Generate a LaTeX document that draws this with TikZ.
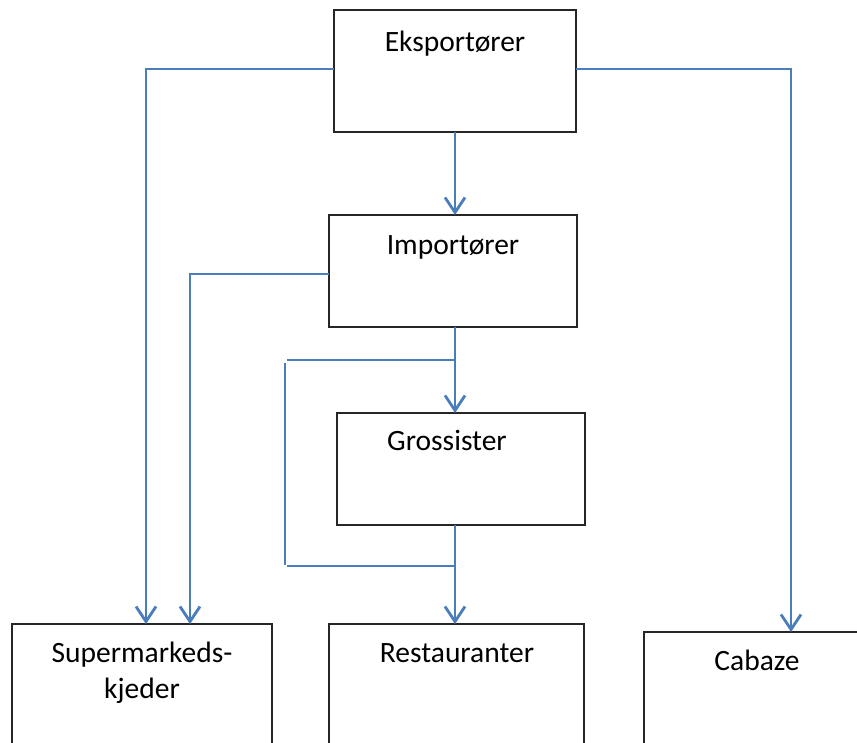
\documentclass[tikz,border=0pt]{standalone}
\usepackage{fontspec}
\setmainfont{Carlito}
\usetikzlibrary{arrows.meta}
\definecolor{conn}{HTML}{4A7EBB}
\begin{document}
\begin{tikzpicture}[x=1pt,y=-1pt,
  box/.style={draw=black!85,line width=1.7pt,rectangle},
  lbl/.style={anchor=base,inner sep=0pt,font=\fontsize{29.5}{35}\selectfont},
  link/.style={draw=conn,line width=2.8pt},
  arr/.style={link,-{Straight Barb[length=15pt,width=20pt,line width=2.8pt]}}]
\useasboundingbox (0,0) rectangle (857,742);
\clip (0,0) rectangle (857,742);
% boxes
\draw[box] (334,10) rectangle (576,132) node[pos=0.5,inner sep=0] (eks) {};
\draw[box] (329,215) rectangle (577,327) node[pos=0.5,inner sep=0] (imp) {};
\draw[box] (337,413) rectangle (585,525) node[pos=0.5,inner sep=0] (gro) {};
\draw[box] (12,624) rectangle (272,800) node[pos=0.5,inner sep=0] (sup) {};
\draw[box] (329,624) rectangle (584,800) node[pos=0.5,inner sep=0] (res) {};
\draw[box] (644,632) rectangle (900,800) node[pos=0.5,inner sep=0] (cab) {};
% labels
\node[lbl] (teks) at (455,51) {Eksportører};
\node[lbl] (timp) at (453,254) {Importører};
\node[lbl] (tgro) at (447,450) {Grossister};
\node[lbl] (tsup1) at (142,662) {Supermarkeds-};
\node[lbl] (tsup2) at (142,698) {kjeder};
\node[lbl] (tres) at (457,662) {Restauranter};
\node[lbl] (tcab) at (757,670) {Cabaze};
% coordinates
\coordinate (eksL) at (334,69);
\coordinate (eksR) at (576,69);
\coordinate (eksB) at (455,132);
\coordinate (impT) at (455,215);
\coordinate (impL) at (329,274);
\coordinate (impB) at (455,327);
\coordinate (groT) at (455,413);
\coordinate (groB) at (455,525);
\coordinate (supT1) at (146,624);
\coordinate (supT2) at (190,624);
\coordinate (resT) at (455,624);
\coordinate (cabT) at (791,632);
\coordinate (bypA) at (455,360);
\coordinate (bypB) at (455,566);
% connectors
\draw[arr] (eksL) -| (supT1);
\draw[arr] (eksR) -| (cabT);
\draw[arr] (eksB) -- (impT);
\draw[arr] (impL) -| (supT2);
\draw[arr] (impB) -- (groT);
\draw[arr] (groB) -- (resT);
\draw[link] (bypA) -- (287,360);
\draw[link] (285,363) -- (285,565);
\draw[link] (287,566) -- (bypB);
\end{tikzpicture}
\end{document}
